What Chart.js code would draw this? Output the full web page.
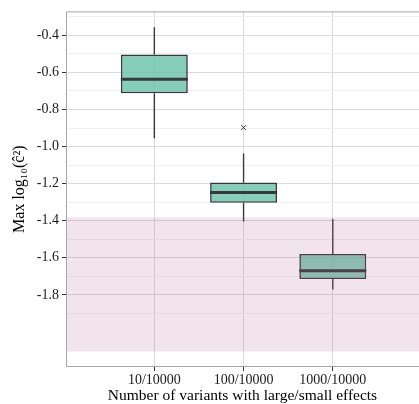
<!DOCTYPE html>
<html>
<head>
<meta charset="utf-8">
<script src="https://cdn.jsdelivr.net/npm/chart.js@4"></script>
<style>
  html, body { margin: 0; padding: 0; background: #fff; }
  #wrap { width: 419px; height: 404px; position: relative; }
</style>
</head>
<body>
<div id="wrap"><canvas id="boxChart"></canvas></div>
<script>
// --- data ---
const categories = ['10/10000', '100/10000', '1000/10000'];
const whiskerLow = [-0.955, -1.404, -1.771];
const lowerQuartile = [-0.713, -1.303, -1.715];
const medians = [-0.637, -1.248, -1.670];
const upperQuartile = [-0.504, -1.194, -1.579];
const whiskerHigh = [-0.357, -1.038, -1.391];
const outlierCategory = ['100/10000'];
const outlierValues = [-0.898];

const yMajorTicks = [-0.4, -0.6, -0.8, -1.0, -1.2, -1.4, -1.6, -1.8];
const yMinorTicks = [-0.3, -0.5, -0.7, -0.9, -1.1, -1.3, -1.5, -1.7, -1.9];
const yRange = [-2.189, -0.271];
const bandRange = [-2.105, -1.382];

// colours
const colors = {
    boxFill: 'rgba(102, 194, 165, 0.8)',
    boxLine: '#383838',
    band: 'rgba(177, 94, 149, 0.17)',
    gridMajor: '#dadada',
    gridMinor: '#f0f0f0',
    panelBorder: '#a6a6a6',
    text: '#1a1a1a'
};

const xPos = categories.map((c, i) => i + 1);

// whisker segments, broken by null so the line does not cross the box
const whiskerPoints = [];
xPos.forEach((x, i) => {
    whiskerPoints.push({ x: x, y: whiskerHigh[i] }, { x: x, y: upperQuartile[i] }, { x: x, y: null });
    whiskerPoints.push({ x: x, y: lowerQuartile[i] }, { x: x, y: whiskerLow[i] }, { x: x, y: null });
});

// panel border + shaded band (band sits over the boxes, like the original)
const panelPlugin = {
    id: 'panel',
    afterDatasetsDraw(chart) {
        const { ctx, chartArea, scales } = chart;
        const yTop = scales.y.getPixelForValue(bandRange[1]);
        const yBot = scales.y.getPixelForValue(bandRange[0]);
        ctx.save();
        ctx.fillStyle = colors.band;
        ctx.fillRect(chartArea.left, yTop, chartArea.right - chartArea.left, yBot - yTop);
        ctx.restore();
    },
    afterDraw(chart) {
        const { ctx, chartArea } = chart;
        ctx.save();
        ctx.strokeStyle = colors.panelBorder;
        ctx.lineWidth = 1;
        ctx.beginPath();
        ctx.moveTo(chartArea.right + 1, chartArea.top + 0.5);
        ctx.lineTo(chartArea.left + 0.5, chartArea.top + 0.5);
        ctx.lineTo(chartArea.left + 0.5, chartArea.bottom - 0.5);
        ctx.lineTo(chartArea.right + 1, chartArea.bottom - 0.5);
        ctx.stroke();
        ctx.restore();
    }
};

const isMinor = (v) => yMinorTicks.some(m => Math.abs(m - v) < 1e-6);

new Chart(document.getElementById('boxChart'), {
    type: 'bar',
    data: {
        datasets: [
            {
                type: 'line',
                data: whiskerPoints,
                borderColor: colors.boxLine,
                borderWidth: 1.4,
                pointRadius: 0,
                spanGaps: false,
                order: 4
            },
            {
                type: 'bar',
                data: xPos.map((x, i) => ({ x: x, y: [lowerQuartile[i], upperQuartile[i]] })),
                backgroundColor: colors.boxFill,
                borderColor: colors.boxLine,
                borderWidth: 1.6,
                borderSkipped: false,
                barPercentage: 0.75,
                categoryPercentage: 1,
                order: 3
            },
            {
                type: 'scatter',
                data: xPos.map((x, i) => ({ x: x, y: medians[i] })),
                pointStyle: 'line',
                pointRadius: 33.5,
                borderColor: colors.boxLine,
                borderWidth: 3,
                order: 2
            },
            {
                type: 'scatter',
                data: outlierCategory.map((c, i) => ({ x: categories.indexOf(c) + 1, y: outlierValues[i] })),
                pointStyle: 'crossRot',
                pointRadius: 3.5,
                borderColor: colors.boxLine,
                borderWidth: 1,
                order: 1
            }
        ]
    },
    options: {
        responsive: true,
        maintainAspectRatio: false,
        animation: false,
        layout: { autoPadding: false, padding: { top: 10, right: 0, bottom: 0, left: 0 } },
        plugins: {
            legend: { display: false },
            tooltip: { enabled: false }
        },
        scales: {
            x: {
                type: 'linear',
                min: 0.01,
                max: 3.966,
                offset: false,
                afterBuildTicks(axis) {
                    axis.ticks = xPos.map(v => ({ value: v }));
                },
                afterFit(axis) { axis.height = 37; },
                ticks: {
                    autoSkip: false,
                    maxRotation: 0,
                    padding: 1,
                    color: colors.text,
                    font: { family: 'Liberation Serif', size: 14 },
                    callback: (v) => categories[Math.round(v) - 1] || ''
                },
                grid: {
                    offset: false,
                    color: colors.gridMajor,
                    tickColor: '#333333',
                    tickLength: 4,
                    lineWidth: 1
                },
                border: { display: false },
                title: {
                    display: true,
                    text: 'Number of variants with large/small effects',
                    color: '#000',
                    font: { family: 'Liberation Serif', size: 15.5, lineHeight: 1 },
                    padding: { top: 0, bottom: 0.5 }
                }
            },
            y: {
                type: 'linear',
                min: yRange[0],
                max: yRange[1],
                afterBuildTicks(axis) {
                    axis.ticks = yMajorTicks.concat(yMinorTicks).map(v => ({ value: v }));
                },
                afterFit(axis) { axis.width = 66; },
                ticks: {
                    autoSkip: false,
                    padding: 3,
                    color: colors.text,
                    font: { family: 'Liberation Serif', size: 14 },
                    callback: (v) => isMinor(v) ? '' : v.toFixed(1)
                },
                grid: {
                    color: (ctx) => ctx.tick && isMinor(ctx.tick.value) ? colors.gridMinor : colors.gridMajor,
                    tickColor: (ctx) => ctx.tick && isMinor(ctx.tick.value) ? 'rgba(0,0,0,0)' : '#333333',
                    tickLength: 4,
                    lineWidth: 1
                },
                border: { display: false },
                title: {
                    display: true,
                    text: 'Max log\u2081\u2080(\u0109\u00b2)',
                    color: '#000',
                    font: { family: 'Liberation Serif', size: 16, lineHeight: 1 },
                    padding: { top: 12, bottom: 0 }
                }
            }
        }
    },
    plugins: [panelPlugin]
});
</script>
</body>
</html>
